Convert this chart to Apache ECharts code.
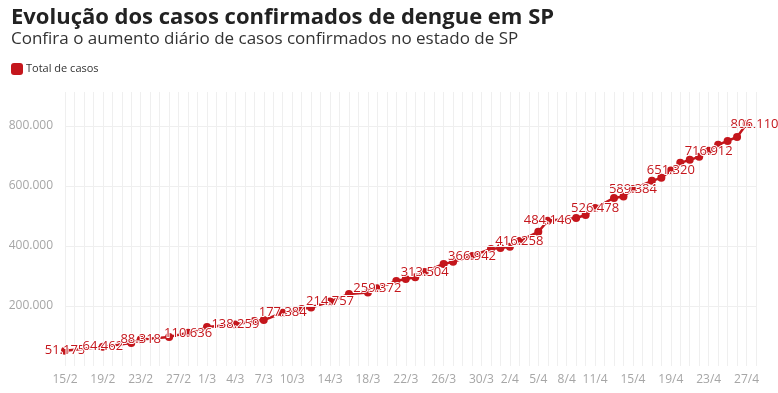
<!DOCTYPE html>
<html>
<head>
<meta charset="utf-8">
<script src="https://cdn.jsdelivr.net/npm/echarts@6/dist/echarts.min.js"></script>
<style>
  html, body { margin: 0; padding: 0; background: #fff; }
  #chart { width: 778px; height: 393px; }
</style>
</head>
<body>
<div id="chart"></div>
<script>
// All daily categories on the x axis (2020: 15/2 .. 28/4)
const categories = [
  '15/2','16/2','17/2','18/2','19/2','20/2','21/2','22/2','23/2','24/2','25/2','26/2','27/2','28/2','29/2',
  '1/3','2/3','3/3','4/3','5/3','6/3','7/3','8/3','9/3','10/3','11/3','12/3','13/3','14/3','15/3','16/3',
  '17/3','18/3','19/3','20/3','21/3','22/3','23/3','24/3','25/3','26/3','27/3','28/3','29/3','30/3','31/3',
  '1/4','2/4','3/4','4/4','5/4','6/4','7/4','8/4','9/4','10/4','11/4','12/4','13/4','14/4','15/4','16/4',
  '17/4','18/4','19/4','20/4','21/4','22/4','23/4','24/4','25/4','26/4','27/4','28/4'
];
// Tick labels shown on the x axis
const tickLabels = ['15/2','19/2','23/2','27/2','1/3','4/3','7/3','10/3','14/3','18/3','22/3','26/3','30/3','2/4','5/4','8/4','11/4','15/4','19/4','23/4','27/4'];

// Points
const pointDates = [
  '15/2','19/2','22/2','23/2','26/2','28/2','1/3','4/3','6/3','7/3','9/3','11/3','12/3','14/3','16/3','18/3','19/3',
  '21/3','22/3','23/3','24/3','26/3','27/3','29/3','31/3','1/4','2/4','3/4','5/4','6/4','9/4','10/4','11/4',
  '13/4','14/4','15/4','17/4','18/4','19/4','20/4','21/4','22/4','23/4','24/4','25/4','26/4','27/4'
];
const pointValues = [
  51175, 64462, 77000, 88318, 97000, 110636, 130000, 138259, 150000, 153000, 177384, 190000, 195000, 214757, 240000, 245000, 259372,
  283000, 290000, 296000, 313504, 340000, 347000, 366942, 390000, 393000, 397000, 416258, 447000, 484146, 493000, 503000, 526478,
  560000, 565000, 589384, 617000, 627000, 651320, 677000, 687000, 697000, 716912, 737000, 750000, 763000, 806110
];
// Points whose value is written on the chart
const labelDates = ['15/2','19/2','23/2','28/2','4/3','9/3','14/3','19/3','24/3','29/3','3/4','6/4','11/4','15/4','19/4','23/4','27/4'];

// Y axis grid values
const yTicks = [200000, 400000, 600000, 800000];

const RED = '#c4161c';
const fmt = v => Math.round(v).toString().replace(/\B(?=(\d{3})+(?!\d))/g, '.');

const seriesData = pointDates.map((d, i) => {
  const item = { value: [d, pointValues[i]] };
  if (labelDates.includes(d)) {
    item.label = { show: true };
    if (i === pointDates.length - 1) item.label.padding = [0, 0, 0, 16];
  }
  return item;
});

const chart = echarts.init(document.getElementById('chart'), null, { renderer: 'canvas' });
chart.setOption({
  animation: false,
  textStyle: { fontFamily: 'Open Sans' },
  title: [
    { text: 'Evolução dos casos confirmados de dengue em SP', left: 6, top: 2,
      textStyle: { fontFamily: 'Open Sans', fontWeight: 'bold', fontSize: 22, color: '#222' } },
    { text: 'Confira o aumento diário de casos confirmados no estado de SP', left: 6, top: 26,
      textStyle: { fontFamily: 'Open Sans', fontWeight: 'normal', fontSize: 17, color: '#333' } }
  ],
  legend: {
    data: ['Total de casos'], left: 6, top: 58, icon: 'roundRect', itemWidth: 12, itemHeight: 12, itemGap: 4,
    textStyle: { fontFamily: 'Open Sans', fontSize: 11, color: '#333', padding: [0, 0, 0, -2] }
  },
  grid: { left: 65, right: 22, top: 92, bottom: 27, containLabel: false },
  xAxis: {
    type: 'category', data: categories, boundaryGap: false,
    axisLine: { show: false }, axisTick: { show: false },
    splitLine: { show: true, interval: 0, lineStyle: { color: '#efefef', width: 1 } },
    axisLabel: {
      interval: (idx, val) => tickLabels.includes(val), color: '#a6a6a6', fontSize: 12, margin: 8,
      fontFamily: 'Open Sans'
    }
  },
  yAxis: {
    type: 'value', min: 0, max: 913000, interval: 200000,
    axisLine: { show: false }, axisTick: { show: false }, splitLine: { show: false },
    axisLabel: { color: '#a6a6a6', fontSize: 12, margin: 12, showMinLabel: false, showMaxLabel: false,
      formatter: v => fmt(v), fontFamily: 'Open Sans' }
  },
  series: [
    {
      name: 'grid', type: 'line', data: [], z: 0, silent: true,
      markLine: {
        silent: true, symbol: 'none', label: { show: false },
        lineStyle: { color: '#efefef', type: 'solid', width: 1 },
        data: yTicks.map(v => ({ yAxis: v }))
      }
    },
    {
      name: 'Total de casos', type: 'line', data: seriesData, connectNulls: true, z: 3,
      color: RED,
      lineStyle: { color: RED, width: 2.5 },
      symbol: 'circle', symbolSize: 8, showAllSymbol: true,
      itemStyle: { color: RED },
      label: {
        show: false, position: 'inside', color: RED, fontSize: 13, fontFamily: 'Open Sans',
        textBorderColor: '#fff', textBorderWidth: 2,
        formatter: p => fmt(p.value[1])
      },
      labelLayout: { hideOverlap: false }
    }
  ]
});
</script>
</body>
</html>
